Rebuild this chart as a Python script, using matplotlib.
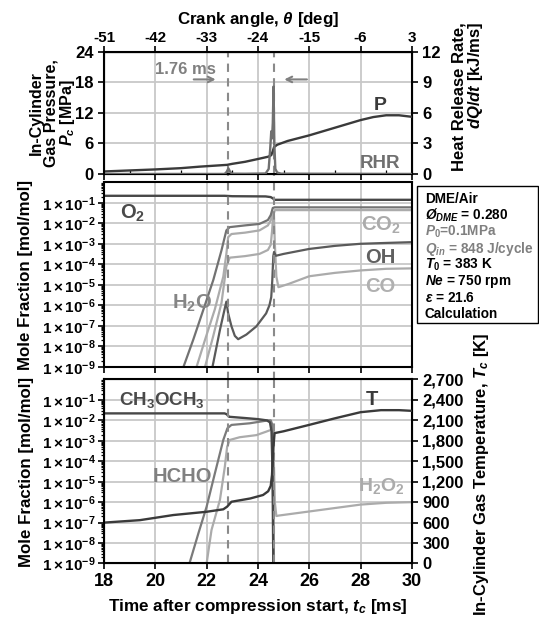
import numpy as np
import matplotlib
matplotlib.use('Agg')
import matplotlib.pyplot as plt
from matplotlib.ticker import FixedLocator, FuncFormatter, LogLocator, NullFormatter, MultipleLocator
from matplotlib.patches import Rectangle

plt.rcParams['font.family'] = ['Liberation Sans', 'DejaVu Sans']
plt.rcParams['font.weight'] = 'bold'
plt.rcParams['axes.unicode_minus'] = False
plt.rcParams['mathtext.fontset'] = 'custom'
plt.rcParams['mathtext.rm'] = 'Liberation Sans:bold'
plt.rcParams['mathtext.bf'] = 'Liberation Sans:bold'
plt.rcParams['mathtext.it'] = 'Liberation Sans:italic:bold'
plt.rcParams['mathtext.default'] = 'bf'

# ---- pressure [MPa] and heat release rate [kJ/ms] vs time [ms] ----
t_p = [18, 19, 20, 21, 21.74, 22.8, 23, 23.5, 24, 24.4, 24.52, 24.58, 24.63, 24.75,
       25.16, 26, 27, 28, 28.5, 29, 29.5, 30]
p_c = [0.5, 0.7, 0.9, 1.15, 1.45, 1.8, 2.0, 2.4, 2.95, 3.4, 3.7, 4.5, 5.3, 5.75,
       6.5, 7.6, 9.1, 10.6, 11.2, 11.55, 11.55, 11.25]

t_rhr = [18, 22.7, 22.78, 22.85, 22.92, 23.0, 23.5, 24.3, 24.42, 24.48, 24.52, 24.55,
         24.58, 24.61, 24.64, 24.68, 24.75, 24.9, 30]
rhr = [0, 0, 0.2, 0.55, 0.2, 0.03, 0.02, 0.05, 0.5, 2.5, 4.2, 3.5,
       5.0, 8.6, 3.0, 0.5, 0.15, 0.03, 0]

# ---- mole fractions, middle panel ----
t_o2 = [18, 22.7, 22.85, 23.0, 24.3, 24.5, 24.58, 24.65, 30]
x_o2 = [0.22, 0.22, 0.215, 0.21, 0.205, 0.19, 0.165, 0.14, 0.14]

t_h2o = [21.1, 21.48, 21.87, 22.26, 22.58, 22.77, 22.9, 23.5, 24.06, 24.39, 24.5, 24.58, 24.65, 30]
x_h2o = [1e-9, 2.1e-8, 5.9e-7, 1.7e-5, 4.8e-4, 4.5e-3, 6.5e-3, 7.9e-3, 9.3e-3, 1.45e-2,
         2.5e-2, 5.6e-2, 6.0e-2, 6.0e-2]

t_co = [21.61, 21.94, 22.32, 22.65, 22.77, 22.84, 22.97, 23.5, 24.06, 24.39, 24.5, 24.58,
        24.62, 24.66, 24.72, 24.8, 25.2, 26, 27, 28, 29, 30]
x_co = [1e-9, 2.1e-8, 6.3e-7, 2.5e-5, 3.2e-4, 2.1e-3, 3.0e-3, 3.5e-3, 4.5e-3, 7.9e-3, 1.4e-2,
        3.2e-2, 3.5e-2, 1.0e-3, 2.5e-5, 7.6e-6, 1.1e-5, 2.6e-5, 3.8e-5, 5.0e-5, 6.0e-5, 6.3e-5]

t_co2 = [21.94, 22.26, 22.58, 22.77, 22.9, 23.5, 24.06, 24.39, 24.5, 24.55, 24.6, 24.66, 30]
x_co2 = [1e-9, 3.2e-8, 1.3e-6, 7.9e-5, 2.1e-4, 2.5e-4, 3.2e-4, 5.0e-4, 8.9e-4, 4.0e-3,
         2.5e-2, 4.4e-2, 4.4e-2]

t_oh = [22.23, 22.52, 22.7, 22.77, 22.84, 22.97, 23.1, 23.23, 23.55, 23.94, 24.32, 24.45,
        24.52, 24.56, 24.6, 24.63, 24.7, 25, 26, 27, 28, 29, 30]
x_oh = [1e-9, 6.3e-8, 6.3e-7, 1.5e-6, 4.0e-7, 9.3e-8, 3.2e-8, 2.2e-8, 3.7e-8, 9.3e-8,
        4.0e-7, 1.0e-6, 2.5e-6, 1.6e-5, 2.5e-4, 4.0e-4, 2.6e-4, 3.2e-4, 5.6e-4, 7.9e-4,
        1.0e-3, 1.1e-3, 1.2e-3]

# ---- mole fractions and temperature, bottom panel ----
t_dme = [18, 22.7, 22.78, 22.88, 23.5, 24.0, 24.35, 24.47, 24.53, 24.56, 24.58, 24.6]
x_dme = [2.2e-2, 2.2e-2, 2.0e-2, 1.5e-2, 1.3e-2, 1.15e-2, 1.0e-2, 8e-3, 3e-3, 1e-4, 1e-6, 1e-9]

t_hcho = [21.33, 21.68, 22.0, 22.32, 22.65, 22.81, 22.97, 23.68, 24.39, 24.5, 24.56, 24.59, 24.62]
x_hcho = [1e-9, 3.0e-8, 6.0e-7, 2.5e-5, 1.1e-3, 4.1e-3, 6.0e-3, 7.2e-3, 1.0e-2, 1.0e-2,
          6.3e-3, 1e-4, 1e-9]

t_h2o2 = [22.0, 22.19, 22.52, 22.71, 22.8, 22.9, 23.29, 23.94, 24.32, 24.5, 24.58, 24.62,
          24.66, 24.72, 24.8, 26, 28, 29, 30]
x_h2o2 = [1e-9, 4.3e-8, 1.3e-6, 5.4e-5, 5.1e-4, 1.1e-3, 1.5e-3, 1.9e-3, 2.8e-3, 3.4e-3,
          3.5e-3, 1e-4, 1e-6, 2.1e-7, 2.2e-7, 3.5e-7, 7.6e-7, 9.3e-7, 1.0e-6]

t_temp = [18, 19.4, 20.7, 22, 22.65, 22.8, 22.97, 23.7, 24.2, 24.4, 24.5, 24.55, 24.6,
          24.65, 25, 26, 27, 28, 28.8, 29.5, 30]
temp = [600, 636, 711, 759, 795, 834, 906, 954, 1005, 1060, 1140, 1300, 1700,
        1913, 1940, 2034, 2130, 2220, 2250, 2250, 2240]

# ignition markers: first-stage and main ignition, 1.76 ms apart
ign_t = [22.85, 24.61]

p_ticks = [0, 6, 12, 18, 24]
rhr_ticks = [0, 3, 6, 9, 12]
crank_ticks = [-51, -42, -33, -24, -15, -6, 3]
frac_ticks = [1e-9, 1e-8, 1e-7, 1e-6, 1e-5, 1e-4, 1e-3, 1e-2, 1e-1]
temp_ticks = [0, 300, 600, 900, 1200, 1500, 1800, 2100, 2400, 2700]
time_ticks = [18, 20, 22, 24, 26, 28, 30]

DARK = '#3a3a3a'
MID = '#707070'
LIGHT = '#ababab'
GRID = '#c8c8c8'
DASH = '#8a8a8a'

fig = plt.figure(figsize=(5.39, 6.21), dpi=100)
L, W = 0.193, 0.571
ax1 = fig.add_axes([L, 0.7198, W, 0.1965])
ax2 = fig.add_axes([L, 0.4095, W, 0.2969])
ax3 = fig.add_axes([L, 0.0926, W, 0.2963])


def style(ax):
    for s in ax.spines.values():
        s.set_linewidth(1.5)
    ax.tick_params(which='major', direction='out', length=4, width=1.2, labelsize=12)
    ax.tick_params(which='minor', direction='out', length=2.5, width=0.9)
    ax.set_xlim(18, 30)
    ax.set_xticks(time_ticks)
    ax.grid(True, which='major', color=GRID, lw=1.3)
    ax.set_axisbelow(True)


def sci_fmt(v, pos):
    return r'$1\times10^{%d}$' % int(round(np.log10(v)))


# ---- top: pressure + RHR ----
style(ax1)
ax1.set_ylim(0, 24)
ax1.set_yticks(p_ticks)
ax1.tick_params(axis='x', labelbottom=False)
ax1.xaxis.set_minor_locator(MultipleLocator(1))
ax1.tick_params(axis='x', which='minor', direction='in', length=3)
ax1.plot(t_p, p_c, color=DARK, lw=1.7, zorder=3)
for t in ign_t:
    ax1.axvline(t, color=DASH, lw=1.5, ls=(0, (4, 3)), zorder=2)

ax1r = ax1.twinx()
ax1r.set_ylim(0, 12)
ax1r.set_yticks(rhr_ticks)
ax1r.tick_params(direction='out', length=4, width=1.2, labelsize=12)
ax1r.plot(t_rhr, rhr, color=MID, lw=1.7)

sec = ax1.secondary_xaxis('top', functions=(lambda t: -51 + (t - 18) * 4.5,
                                            lambda a: 18 + (a + 51) / 4.5))
sec.set_xticks(crank_ticks)
sec.tick_params(direction='out', length=4, width=1.2, labelsize=11, pad=1)

ax1.text(21.19, 20.6, '1.76 ms', color='#808080', fontsize=12, ha='center', va='center')
ax1.annotate('', xy=(22.46, 18.6), xytext=(21.39, 18.6),
             arrowprops=dict(arrowstyle='->', color='#808080', lw=1.5))
ax1.annotate('', xy=(24.92, 18.6), xytext=(26.02, 18.6),
             arrowprops=dict(arrowstyle='->', color='#808080', lw=1.5))
ax1.text(28.75, 13.5, 'P', color=DARK, fontsize=14, ha='center', va='center')
ax1.text(28.76, 2.1, 'RHR', color='#707070', fontsize=13.5, ha='center', va='center')

# ---- middle: products and radicals ----
style(ax2)
ax2.set_yscale('log')
ax2.set_ylim(1e-9, 1)
ax2.yaxis.set_major_locator(FixedLocator(frac_ticks))
ax2.yaxis.set_major_formatter(FuncFormatter(sci_fmt))
ax2.yaxis.set_minor_locator(LogLocator(base=10, subs=np.arange(2, 10), numticks=20))
ax2.yaxis.set_minor_formatter(NullFormatter())
ax2.tick_params(axis='x', labelbottom=False)
ax2.tick_params(axis='y', labelsize=11, pad=2)

ax2.plot(t_co2, x_co2, color=LIGHT, lw=1.6)
ax2.plot(t_co, x_co, color=LIGHT, lw=1.6)
ax2.plot(t_h2o, x_h2o, color='#727272', lw=1.6)
ax2.plot(t_oh, x_oh, color='#5a5a5a', lw=1.6)
ax2.plot(t_o2, x_o2, color='#474747', lw=1.7)
for t in ign_t:
    ax2.axvline(t, ymin=-0.07, ymax=1.046, clip_on=False, color=DASH, lw=1.5, ls=(0, (4, 3)))

ax2.text(18.62, 3.0e-2, 'O$_2$', color='#4a4a4a', fontsize=14.5, ha='left', va='center')
ax2.text(28.03, 8.1e-3, 'CO$_2$', color=LIGHT, fontsize=14.5, ha='left', va='center')
ax2.text(28.17, 2.2e-4, 'OH', color='#606060', fontsize=14.5, ha='left', va='center')
ax2.text(28.17, 7.9e-6, 'CO', color='#b0b0b0', fontsize=14.5, ha='left', va='center')
ax2.text(20.65, 1.3e-6, 'H$_2$O', color='#858585', fontsize=14.5, ha='left', va='center')

# ---- bottom: fuel, intermediates, temperature ----
style(ax3)
ax3.set_yscale('log')
ax3.set_ylim(1e-9, 1)
ax3.yaxis.set_major_locator(FixedLocator(frac_ticks))
ax3.yaxis.set_major_formatter(FuncFormatter(sci_fmt))
ax3.yaxis.set_minor_locator(LogLocator(base=10, subs=np.arange(2, 10), numticks=20))
ax3.yaxis.set_minor_formatter(NullFormatter())
ax3.tick_params(axis='y', labelsize=11, pad=2)
ax3.tick_params(axis='x', labelsize=13, pad=3)

ax3.plot(t_h2o2, x_h2o2, color=LIGHT, lw=1.6)
ax3.plot(t_hcho, x_hcho, color='#7a7a7a', lw=1.6)
ax3.plot(t_dme, x_dme, color='#474747', lw=1.7)
for t in ign_t:
    ax3.axvline(t, color=DASH, lw=1.5, ls=(0, (4, 3)))

ax3r = ax3.twinx()
ax3r.set_ylim(0, 2700)
ax3r.set_yticks(temp_ticks)
ax3r.yaxis.set_major_formatter(FuncFormatter(lambda v, p: '{:,.0f}'.format(v)))
ax3r.tick_params(direction='out', length=4, width=1.2, labelsize=12)
ax3r.plot(t_temp, temp, color=DARK, lw=1.7)

ax3.text(18.57, 1.0e-1, 'CH$_3$OCH$_3$', color='#4a4a4a', fontsize=13.5, ha='left', va='center')
ax3.text(19.91, 1.8e-5, 'HCHO', color='#808080', fontsize=14.5, ha='left', va='center')
ax3.text(28.43, 1.0e-1, 'T', color=DARK, fontsize=14.5, ha='center', va='center')
ax3.text(27.9, 5.9e-6, 'H$_2$O$_2$', color=LIGHT, fontsize=14, ha='left', va='center')

# ---- axis titles ----
fig.text(0.4787, 0.9694, r'Crank angle, $\mathit{\theta}$ [deg]', fontsize=12.2, ha='center', va='center')
fig.text(0.098, 0.818, 'In-Cylinder\nGas Pressure,\n$\\mathit{P}_\\mathit{c}$ [MPa]',
         rotation=90, fontsize=11.5, ha='center', va='center', ma='center', linespacing=0.95)
fig.text(0.868, 0.845, 'Heat Release Rate,\n$\\mathit{dQ/dt}$ [kJ/ms]',
         rotation=90, fontsize=12, ha='center', va='center', ma='right', linespacing=0.95)
fig.text(0.0473, 0.558, 'Mole Fraction [mol/mol]', rotation=90, fontsize=12.2,
         ha='center', va='center')
fig.text(0.049, 0.2407, 'Mole Fraction [mol/mol]', rotation=90, fontsize=12.2,
         ha='center', va='center')
fig.text(0.8925, 0.2367, 'In-Cylinder Gas Temperature, $\\mathit{T}_\\mathit{c}$ [K]',
         rotation=90, fontsize=12, ha='center', va='center')
fig.text(0.4783, 0.0233, 'Time after compression start, $\\mathit{t}_\\mathit{c}$ [ms]',
         fontsize=12.3, ha='center', va='center')

# ---- conditions box ----
fig.patches.append(Rectangle((0.7731, 0.4799), 0.2250, 0.2206, transform=fig.transFigure,
                             fill=False, edgecolor='black', lw=1.0))
cond_lines = [
    ('DME/Air', 'black'),
    ('$\\mathit{Ø}_{\\mathit{DME}}$ = 0.280', 'black'),
    ('$\\mathit{P}_{\\mathit{0}}$=0.1MPa', '#808080'),
    ('$\\mathit{Q}_{\\mathit{in}}$ = 848 J/cycle', '#808080'),
    ('$\\mathit{T}_{\\mathit{0}}$ = 383 K', 'black'),
    ('$\\mathit{Ne}$ = 750 rpm', 'black'),
    ('$\\mathit{\\varepsilon}$ = 21.6', 'black'),
    ('Calculation', 'black'),
]
for i, (txt, col) in enumerate(cond_lines):
    fig.text(0.788, 1 - (199.3 + i * 16.4) / 621, txt, color=col, fontsize=9.8,
             ha='left', va='center')

fig.savefig('out.png', dpi=100)
